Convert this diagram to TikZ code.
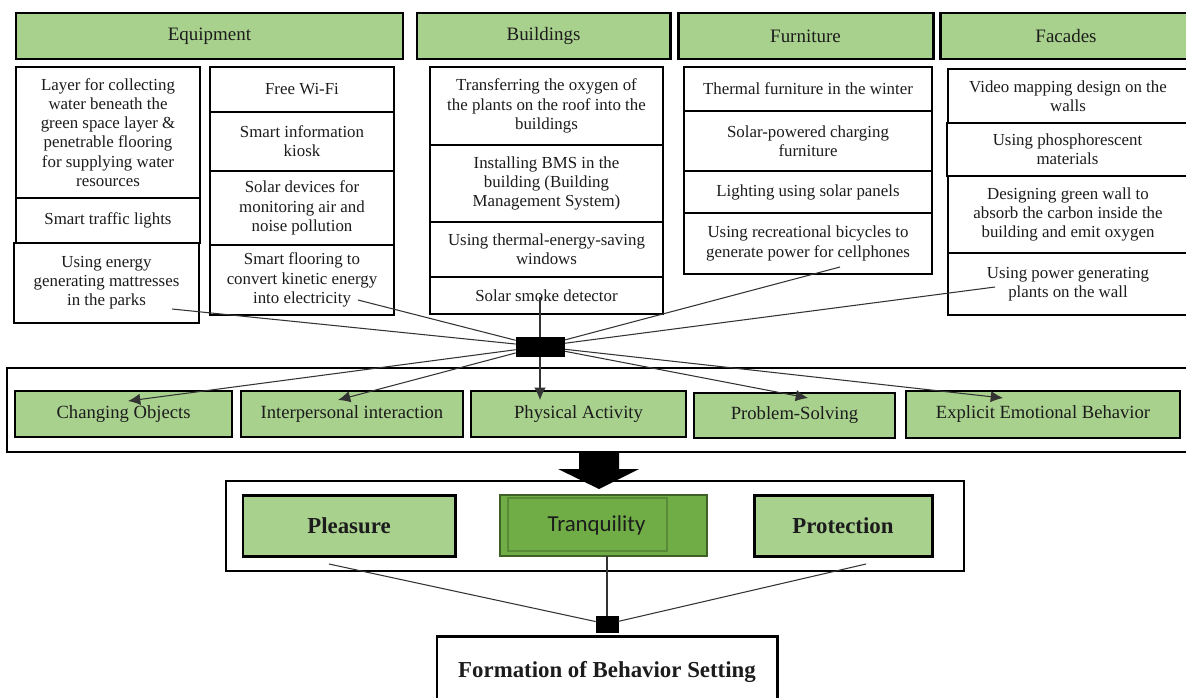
\documentclass[tikz,border=0pt]{standalone}
\usepackage{fontspec}
\setmainfont{Liberation Serif}
\newfontfamily\carlito{Carlito}
\usetikzlibrary{arrows.meta}
\definecolor{lg}{RGB}{169,209,142}
\definecolor{dg}{RGB}{112,173,71}
\definecolor{dgb}{RGB}{88,138,56}
\definecolor{ink}{RGB}{28,28,28}
\newcommand\bx[7]{\node[#6, minimum width={(#4-#2)*0.02cm}, minimum height={(#5-#3)*0.02cm}] (#1) at ({(#2+#4)/2},{(#3+#5)/2}) {#7};}
\tikzset{
  hdr/.style={draw, line width=1.7pt, fill=lg, inner sep=1pt, text=ink, font=\fontsize{10.8}{13}\selectfont},
  src/.style={draw, line width=1.5pt, fill=white, align=center, inner sep=1pt, text=ink, font=\fontsize{9.6}{10.9}\selectfont},
  beh/.style={draw, line width=1.6pt, fill=lg, inner sep=1pt, text=ink, font=\fontsize{10.6}{12}\selectfont},
  emo/.style={draw, line width=1.7pt, fill=lg, inner sep=1pt, text=ink, font=\fontsize{13}{15}\selectfont\bfseries},
  frm/.style={draw, line width=1.3pt, inner sep=0pt},
  link/.style={draw=black!80, line width=0.6pt},
  arr/.style={link, -{Latex[length=7pt,width=6.5pt]}},
  hubbox/.style={fill=black, draw=black, inner sep=0pt},
}
\begin{document}
\begin{tikzpicture}[x=0.02cm, y=-0.02cm]
\useasboundingbox (0,0) rectangle (1186,697);
\fill[white] (0,0) rectangle (1186,697);

% headers
\bx{hEq}{16}{13}{403}{59}{hdr}{Equipment}
\bx{hBd}{417}{13}{670}{59}{hdr}{Buildings}
\bx{hFu}{678}{13}{933}{59}{hdr}{Furniture}
\bx{hFa}{940}{13}{1192}{59}{hdr}{Facades}

% equipment left column
\bx{eq1}{16}{67}{200}{198}{src}{Layer for collecting\\water beneath the\\green space layer \&\\penetrable flooring\\for supplying water\\resources}
\bx{eq2}{16}{198}{200}{243}{src}{Smart traffic lights}
\bx{eq3}{14}{243}{199}{323}{src}{Using energy\\generating mattresses\\in the parks}
% equipment right column
\bx{eq4}{210}{67}{394}{112}{src}{Free Wi-Fi}
\bx{eq5}{210}{112}{394}{171}{src}{Smart information\\kiosk}
\bx{eq6}{210}{171}{394}{245}{src}{Solar devices for\\monitoring air and\\noise pollution}
\bx{eq7}{210}{245}{394}{315}{src}{Smart flooring to\\convert kinetic energy\\into electricity}

% buildings
\bx{bd1}{430}{67}{663}{145}{src}{Transferring the oxygen of\\the plants on the roof into the\\buildings}
\bx{bd2}{430}{145}{663}{222}{src}{Installing BMS in the\\building (Building\\Management System)}
\bx{bd3}{430}{222}{663}{277}{src}{Using thermal-energy-saving\\windows}
\bx{bd4}{430}{277}{663}{314}{src}{Solar smoke detector}

% furniture
\bx{fu1}{684}{67}{932}{111}{src}{Thermal furniture in the winter}
\bx{fu2}{684}{111}{932}{171}{src}{Solar-powered charging\\furniture}
\bx{fu3}{684}{171}{932}{213}{src}{Lighting using solar panels}
\bx{fu4}{684}{213}{932}{274}{src}{Using recreational bicycles to\\generate power for cellphones}

% facades
\bx{fa1}{948}{69}{1188}{123}{src}{Video mapping design on the\\walls}
\bx{fa2}{947}{123}{1188}{176}{src}{Using phosphorescent\\materials}
\bx{fa3}{948}{176}{1188}{253}{src}{Designing green wall to\\absorb the carbon inside the\\building and emit oxygen}
\bx{fa4}{948}{253}{1188}{315}{src}{Using power generating\\plants on the wall}

% behaviour frame and boxes
\bx{bframe}{7}{368}{1195}{452}{frm}{}
\bx{g1}{15}{391}{232}{437}{beh}{Changing Objects}
\bx{g2}{241}{391}{463}{437}{beh}{Interpersonal interaction}
\bx{g3}{471}{391}{686}{437}{beh}{Physical Activity}
\bx{g4}{694}{393}{895}{438}{beh}{Problem-Solving}
\bx{g5}{906}{391}{1180}{438}{beh}{Explicit Emotional Behavior}

% hub
\bx{hub}{516}{337}{564}{356}{hubbox}{}

% connector end points
\coordinate (s1) at (172,309);
\coordinate (s2) at (358,300);
\coordinate (s3) at (540,297);
\coordinate (s4) at (840,267);
\coordinate (s5) at (995,287);
\coordinate (t1) at (128,401);
\coordinate (t2) at (338,400);
\coordinate (t3) at (540,400);
\coordinate (t4) at (808,398);
\coordinate (t5) at (1003,398);

\draw[link] (s1) -- (hub);
\draw[link] (s2) -- (hub);
\draw[link] (s3) -- (hub);
\draw[link] (s4) -- (hub);
\draw[link] (s5) -- (hub);
\draw[arr] (hub) -- (t1);
\draw[arr] (hub) -- (t2);
\draw[arr] (hub) -- (t3);
\draw[arr] (hub) -- (t4);
\draw[arr] (hub) -- (t5);
\bx{hubtop}{516}{337}{564}{356}{hubbox}{}

% big arrow
\fill[black] (579,452) -- (619,452) -- (619,469) -- (639,469) -- (599,489) -- (558,469) -- (579,469) -- cycle;

% emotions frame
\bx{eframe}{226}{481}{964}{571}{frm}{}
\bx{ple}{243}{495}{455}{556}{emo}{Pleasure}
\bx{pro}{754}{495}{932}{556}{emo}{Protection}
\bx{tq}{500}{495}{707}{556}{fill=dg, draw=dgb!70!black, line width=0.8pt, inner sep=1pt, text=ink, font=\carlito\fontsize{13}{15}\selectfont}{\hspace*{-8pt}\raisebox{2pt}{Tranquility}}
\bx{tqi}{508}{498}{667}{551}{draw=dgb, line width=1pt, inner sep=0pt}{}

% lower hub and result
\bx{hub2}{596}{616}{618}{632}{hubbox}{}
\coordinate (p1) at (329,564);
\coordinate (p2) at (607,556);
\coordinate (p3) at (866,564);
\draw[link] (p1) -- (hub2);
\draw[link] (p2) -- (hub2);
\draw[link] (p3) -- (hub2);
\bx{res}{437}{636}{777}{708}{draw, line width=1.7pt, fill=white, inner sep=1pt, text=ink, font=\fontsize{13}{15}\selectfont\bfseries}{Formation of Behavior Setting}
\end{tikzpicture}
\end{document}
